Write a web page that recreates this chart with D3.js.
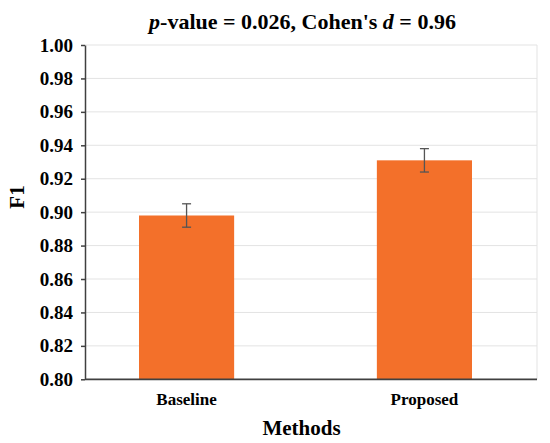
<!DOCTYPE html>
<html>
<head>
<meta charset="utf-8">
<script src="https://cdn.jsdelivr.net/npm/d3@7"></script>
<style>
  html, body { margin: 0; padding: 0; background: #fff; }
  svg { display: block; }
  text { font-family: "Liberation Serif", "Times New Roman", serif; font-weight: bold; fill: #000; }
</style>
</head>
<body>
<svg id="chart" width="550" height="443"></svg>
<script>
// ---- data ----
const categories = ["Baseline", "Proposed"];
const f1Values = [0.898, 0.931];
const f1Errors = [0.007, 0.007];
const yTicks = [0.80, 0.82, 0.84, 0.86, 0.88, 0.90, 0.92, 0.94, 0.96, 0.98, 1.00];
const titleParts = [
  { t: "p", italic: true },
  { t: "-value = 0.026, Cohen's ", italic: false },
  { t: "d", italic: true },
  { t: " = 0.96", italic: false }
];
const xTitle = "Methods";
const yTitle = "F1";

// ---- layout ----
const plotLeft = 85, plotRight = 537, plotTop = 45, plotBottom = 379.3;
const svg = d3.select("#chart");

const y = d3.scaleLinear().domain([0.8, 1.0]).range([plotBottom, plotTop]);
const x = d3.scaleBand().domain(categories).range([139, 472]).paddingInner(0.6).paddingOuter(0);

// gridlines
svg.append("g").selectAll("line").data(yTicks.slice(1)).join("line")
  .attr("x1", plotLeft).attr("x2", plotRight)
  .attr("y1", d => y(d)).attr("y2", d => y(d))
  .attr("stroke", "#e3e3e3").attr("stroke-width", 1);
// right border
svg.append("line")
  .attr("x1", plotRight).attr("x2", plotRight)
  .attr("y1", y(1.0)).attr("y2", y(0.8))
  .attr("stroke", "#e3e3e3").attr("stroke-width", 1);

// bars
svg.append("g").selectAll("rect").data(categories).join("rect")
  .attr("x", d => x(d))
  .attr("width", x.bandwidth())
  .attr("y", (d, i) => y(f1Values[i]))
  .attr("height", (d, i) => y(0.8) - y(f1Values[i]))
  .attr("fill", "#f3702a");

// error bars
const eb = svg.append("g").attr("stroke", "#555").attr("stroke-width", 1.3).attr("fill", "none");
categories.forEach((c, i) => {
  const cx = x(c) + x.bandwidth() / 2;
  const hi = y(f1Values[i] + f1Errors[i]);
  const lo = y(f1Values[i] - f1Errors[i]);
  eb.append("line").attr("x1", cx).attr("x2", cx).attr("y1", hi).attr("y2", lo);
  eb.append("line").attr("x1", cx - 4.5).attr("x2", cx + 4.5).attr("y1", hi).attr("y2", hi);
  eb.append("line").attr("x1", cx - 4.5).attr("x2", cx + 4.5).attr("y1", lo).attr("y2", lo);
});

// y axis
const yAxis = svg.append("g").attr("transform", `translate(${plotLeft},0)`)
  .call(d3.axisLeft(y).tickValues(yTicks).tickFormat(d3.format(".2f")).tickSize(4).tickSizeOuter(0).tickPadding(8));
yAxis.select(".domain").attr("stroke", "#404040").attr("stroke-width", 1.5);
yAxis.selectAll(".tick line").attr("stroke", "#404040").attr("stroke-width", 1.5);
yAxis.selectAll(".tick text")
  .style("font-family", "'Liberation Serif', 'Times New Roman', serif")
  .style("font-weight", "bold").style("font-size", "19px").attr("fill", "#000");

// x axis
const xAxis = svg.append("g").attr("transform", `translate(0,${plotBottom})`)
  .call(d3.axisBottom(x).tickSize(0).tickPadding(14));
xAxis.select(".domain").remove();
svg.append("line")
  .attr("x1", plotLeft).attr("x2", plotRight)
  .attr("y1", plotBottom).attr("y2", plotBottom)
  .attr("stroke", "#404040").attr("stroke-width", 1.8);
xAxis.selectAll(".tick text")
  .style("font-family", "'Liberation Serif', 'Times New Roman', serif")
  .style("font-weight", "bold").style("font-size", "17px").attr("fill", "#000");

// title
const title = svg.append("text")
  .attr("x", 302.5).attr("y", 28.5)
  .attr("text-anchor", "middle")
  .style("font-size", "22px");
titleParts.forEach(p => {
  title.append("tspan").text(p.t).style("font-style", p.italic ? "italic" : "normal");
});

// axis titles
svg.append("text")
  .attr("x", 301.5).attr("y", 435)
  .attr("text-anchor", "middle")
  .style("font-size", "21px")
  .text(xTitle);

svg.append("text")
  .attr("transform", "translate(24,197) rotate(-90)")
  .attr("text-anchor", "middle")
  .style("font-size", "21px")
  .text(yTitle);
</script>
</body>
</html>
